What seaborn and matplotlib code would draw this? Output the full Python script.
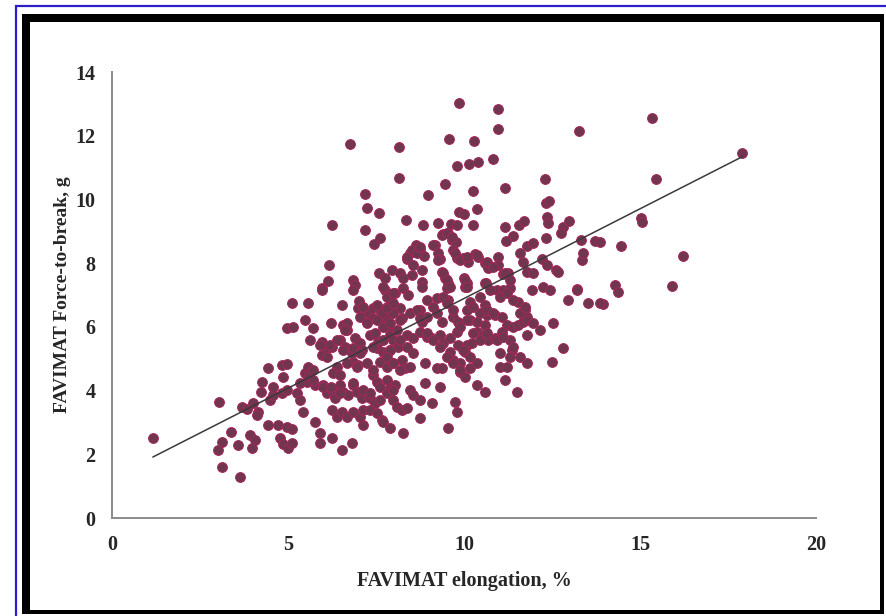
import numpy as np
import pandas as pd
import seaborn as sns
import matplotlib.pyplot as plt
from matplotlib.patches import Rectangle

#----------------------------- DATA -----------------------------#
# (elongation %, force-to-break g)
upper_pts = [(9.86, 13.02), (10.97, 12.84), (10.97, 12.21), (13.27, 12.15), (9.57, 11.90), (10.28, 11.83),
             (8.15, 11.65), (10.82, 11.27), (9.80, 11.05), (10.14, 11.10), (10.40, 11.17), (8.15, 10.67),
             (12.30, 10.64), (9.46, 10.48), (11.16, 10.36), (10.26, 10.26), (8.98, 10.14), (12.33, 9.89),
             (12.41, 9.95), (10.37, 9.70), (9.86, 9.60), (10.00, 9.54), (7.59, 9.57), (8.35, 9.35),
             (12.36, 9.45), (12.40, 9.26), (8.84, 9.20), (9.26, 9.26), (9.63, 9.23), (9.80, 9.20),
             (10.26, 9.20), (11.56, 9.20), (11.70, 9.32), (11.16, 9.13), (12.81, 9.13), (12.98, 9.32),
             (12.76, 8.95), (9.40, 8.91), (9.55, 8.95), (11.39, 8.85), (11.19, 8.70), (12.33, 8.79),
             (13.32, 8.73), (13.72, 8.70), (7.61, 8.79), (7.44, 8.60), (9.66, 8.73), (9.77, 8.66),
             (11.79, 8.54), (11.96, 8.63), (8.64, 8.57), (8.75, 8.41), (9.18, 8.57), (8.47, 8.32),
             (8.38, 8.13), (8.86, 8.22), (9.26, 8.32), (9.32, 8.13), (9.69, 8.41), (9.80, 8.16),
             (9.97, 8.16), (10.11, 8.04), (10.31, 8.29), (10.40, 8.19), (10.60, 8.00), (10.68, 7.85),
             (10.97, 8.19), (10.97, 7.94), (11.59, 8.32), (11.68, 8.04), (12.22, 8.13), (12.36, 7.94),
             (12.61, 7.78), (12.67, 7.72), (13.35, 8.10), (13.38, 8.32), (7.59, 7.69), (7.76, 7.53),
             (7.95, 7.78), (8.18, 7.69), (8.27, 7.53), (8.52, 7.63), (8.81, 7.41), (9.38, 7.72),
             (9.46, 7.53), (9.55, 7.38), (10.00, 7.53), (10.09, 7.38), (10.63, 7.38), (11.11, 7.66),
             (11.25, 7.69), (11.79, 7.72), (11.96, 7.69), (13.20, 7.19),
             (6.76, 11.74), (7.19, 10.17), (7.24, 9.73), (6.25, 9.20), (7.19, 9.04), (6.16, 7.94),
             (6.14, 7.44), (6.85, 7.47), (6.90, 7.31), (5.97, 7.22)]

right_pts = [(15.34, 12.56), (17.90, 11.46), (15.45, 10.64), (15.03, 9.42), (15.06, 9.29), (14.46, 8.54),
             (16.22, 8.22), (14.29, 7.31), (15.91, 7.28), (13.86, 8.66), (13.95, 6.72), (14.38, 7.09),
             (12.95, 6.84), (13.21, 7.16), (13.52, 6.75), (13.86, 6.75), (12.53, 6.12), (12.81, 5.34),
             (12.50, 4.90)]

low_pts = [(1.16, 2.51), (3.04, 3.64), (3.13, 1.60), (3.64, 1.29), (3.01, 2.13), (3.13, 2.39), (3.38, 2.70),
           (3.58, 2.29), (3.93, 2.60), (4.07, 2.45), (3.98, 2.20), (3.70, 3.48), (3.84, 3.42), (4.01, 3.61),
           (4.15, 3.33), (4.12, 3.23), (4.44, 2.92), (4.72, 2.92), (4.97, 2.86), (5.11, 2.79), (4.77, 2.51),
           (4.86, 2.32), (5.00, 2.20), (5.11, 2.35), (4.49, 3.70), (4.58, 3.86), (4.26, 4.27), (4.23, 3.95),
           (4.43, 4.70), (4.83, 4.80), (4.97, 4.83), (4.86, 4.43), (5.26, 3.92), (5.34, 3.70), (5.43, 3.33),
           (5.48, 4.55), (5.57, 4.43), (5.77, 4.17), (5.77, 3.01), (5.91, 2.67), (5.91, 2.35), (6.25, 2.51),
           (6.53, 2.13), (6.82, 2.35), (7.13, 2.92), (5.11, 6.75), (5.57, 6.75), (4.97, 5.96), (5.14, 6.00),
           (5.48, 6.21), (5.71, 5.96), (5.97, 7.16), (5.63, 5.59), (5.97, 5.52), (6.11, 5.34), (6.25, 5.37),
           (5.97, 5.12), (6.11, 5.05), (6.53, 6.69), (6.56, 6.06), (6.68, 5.90), (6.48, 5.59), (6.62, 5.37),
           (6.90, 5.65), (7.05, 5.49), (7.10, 5.27), (6.85, 4.90), (6.99, 4.80), (6.39, 4.74), (6.28, 4.55),
           (6.48, 4.49), (5.57, 4.74), (5.71, 4.65), (5.54, 4.27), (5.99, 4.17), (6.11, 3.92), (6.25, 4.02),
           (6.34, 3.77), (6.48, 4.17), (6.56, 3.95), (6.70, 3.86), (6.85, 4.17), (6.96, 3.95), (7.10, 3.77),
           (7.24, 3.86), (6.25, 3.39), (6.39, 3.17), (6.53, 3.33), (6.68, 3.17), (6.85, 3.33), (7.05, 3.17),
           (7.13, 3.39), (6.82, 5.18), (6.99, 6.59), (7.24, 6.47), (6.85, 7.16), (7.24, 6.15)]

core_pts = [(7.76, 7.16), (7.90, 6.90), (8.04, 7.06), (8.27, 7.22), (8.41, 7.00), (8.81, 7.25), (9.23, 6.90),
            (9.55, 6.84), (9.52, 7.22), (10.03, 7.25), (10.17, 6.78), (10.09, 6.53), (10.45, 6.94),
            (10.60, 6.69), (10.94, 7.16), (11.11, 7.16), (11.31, 7.22), (11.53, 6.78), (11.73, 6.53),
            (11.79, 6.31), (11.93, 7.16), (12.24, 7.25), (12.44, 7.16), (7.41, 6.59), (7.41, 6.28),
            (7.67, 6.21), (7.81, 6.31), (7.84, 5.96), (8.18, 6.59), (8.24, 6.28), (8.47, 6.43), (8.75, 6.53),
            (8.81, 6.15), (8.95, 6.31), (9.23, 6.43), (9.38, 6.15), (9.69, 6.31), (9.83, 6.15), (10.17, 6.21),
            (10.37, 6.15), (10.60, 6.06), (10.65, 6.37), (10.88, 6.37), (11.08, 6.31), (11.22, 6.06),
            (11.39, 5.99), (11.53, 6.06), (11.68, 6.15), (11.79, 5.74), (7.33, 5.74), (7.47, 5.81),
            (7.56, 5.52), (7.90, 5.74), (7.98, 5.59), (8.13, 5.37), (8.38, 5.74), (8.55, 5.65), (8.75, 5.84),
            (8.95, 5.68), (9.09, 5.65), (9.32, 5.74), (9.40, 5.49), (9.60, 5.65), (9.80, 5.84), (9.83, 5.43),
            (10.09, 5.43), (10.23, 5.49), (10.37, 5.84), (10.54, 5.74), (10.68, 5.59), (10.88, 5.65),
            (11.08, 5.84), (11.31, 5.59), (11.36, 5.27), (11.31, 5.05), (7.53, 5.34), (7.70, 5.21),
            (7.90, 5.27), (7.61, 4.90), (7.81, 4.74), (8.24, 4.96), (8.32, 4.71), (8.47, 4.74), (8.89, 4.87),
            (9.23, 4.71), (9.38, 4.71), (9.60, 5.21), (9.69, 4.96), (9.89, 4.87), (10.03, 5.21), (10.17, 5.05),
            (10.17, 4.71), (9.89, 4.58), (10.03, 4.43), (11.02, 4.74), (11.16, 4.33), (10.37, 4.17),
            (10.60, 3.95), (11.51, 3.95), (7.41, 4.49), (7.53, 4.27), (7.81, 4.33), (7.90, 4.08), (8.04, 4.17),
            (8.47, 4.02), (8.55, 3.86), (8.75, 3.70), (8.89, 4.24), (9.32, 4.11), (9.09, 3.61), (7.33, 3.77),
            (7.47, 3.61), (7.61, 3.70), (7.98, 3.70), (8.10, 3.48), (8.24, 3.39), (8.38, 3.45), (7.33, 3.39),
            (7.53, 3.30), (7.67, 3.08), (7.70, 3.01), (7.90, 2.82), (8.75, 3.14), (9.74, 3.64), (9.80, 3.33),
            (9.55, 2.82), (8.27, 2.67)]

extra_pts = [(7.70, 7.25), (7.81, 6.94), (7.98, 7.06), (9.40, 7.69), (9.52, 7.47), (9.60, 7.25), (10.03, 7.47),
             (10.09, 7.25), (10.60, 7.38), (10.74, 7.16), (7.61, 6.53), (7.81, 6.62), (7.98, 6.43),
             (8.18, 6.21), (8.66, 6.53), (8.75, 6.28), (9.89, 6.00), (10.09, 6.21), (11.59, 6.43),
             (11.73, 6.62), (11.79, 6.21), (11.96, 6.12), (12.16, 5.90), (10.26, 5.81), (10.45, 5.59),
             (10.65, 5.81), (10.94, 5.59), (11.11, 5.68), (9.97, 5.27), (10.37, 4.87), (11.02, 5.18),
             (11.22, 4.74), (8.95, 5.81), (9.12, 5.59), (9.32, 5.37), (9.52, 5.05), (9.69, 4.87), (9.89, 4.65),
             (8.18, 5.59), (8.38, 5.37), (8.55, 5.18), (7.81, 5.18), (7.98, 4.87), (8.18, 4.65),
             (8.38, 8.19), (8.52, 8.41), (8.66, 8.32), (8.75, 8.51), (8.55, 7.94), (8.81, 7.78), (9.12, 8.57),
             (9.26, 8.10), (9.38, 8.88), (9.52, 8.95), (9.66, 8.82), (9.74, 8.32), (9.89, 8.10), (10.09, 8.19),
             (10.37, 8.26), (10.65, 8.04), (10.82, 7.88), (11.16, 7.69), (11.31, 7.47), (8.95, 6.84),
             (9.12, 6.62), (9.40, 6.94), (9.52, 6.75), (9.69, 6.53), (10.26, 6.62), (10.45, 6.43),
             (10.65, 6.53), (10.82, 6.43), (11.02, 6.94), (11.22, 7.06), (11.39, 6.84), (11.39, 5.37),
             (11.59, 5.05), (11.79, 4.87), (7.02, 6.81), (7.13, 6.62), (7.53, 6.69), (7.67, 6.43),
             (7.81, 6.59), (7.98, 6.75), (6.22, 6.12), (6.68, 6.12), (6.62, 5.90), (7.05, 6.31), (7.24, 6.12),
             (7.53, 6.21), (7.70, 6.00), (7.90, 6.12), (8.10, 5.90), (5.91, 5.43), (6.19, 5.43), (6.39, 5.59),
             (6.56, 5.27), (6.85, 5.34), (7.05, 5.18), (7.41, 5.37), (7.70, 5.59), (7.90, 5.27), (6.68, 4.87),
             (6.96, 4.74), (7.24, 4.87), (7.41, 4.65), (7.81, 5.05), (7.98, 4.87), (4.58, 4.11), (4.83, 3.92),
             (4.97, 4.02), (5.34, 4.24), (5.71, 4.33), (5.99, 4.11), (6.22, 4.11), (6.48, 3.92), (6.85, 4.24),
             (7.13, 4.02), (7.33, 3.92), (7.61, 4.11), (7.81, 3.92), (7.98, 4.02)]

# linear trendline as drawn in the original (fitted on the full data set)
trend_slope = 0.563
trend_intercept = 1.26

xlabel = 'FAVIMAT elongation, %'
ylabel = 'FAVIMAT Force-to-break, g'

#----------------------------------- PLOT -----------------------------------#
df = pd.DataFrame(upper_pts + right_pts + low_pts + core_pts + extra_pts,
                  columns=['elong', 'force'])
trend = pd.DataFrame({'elong': [df['elong'].min(), df['elong'].max()]})
trend['force'] = trend_intercept + trend_slope * trend['elong']

sns.set_style('white')
plt.rcParams['font.family'] = ['Liberation Serif', 'DejaVu Serif']

fig = plt.figure(figsize=(8.86, 6.16), dpi=100)
ax = fig.add_axes([112/886, 98/616, 704/886, 446/616])

sns.scatterplot(data=df, x='elong', y='force', ax=ax, s=50,
                color='#71354f', edgecolor='#a3285a', linewidth=0.7, zorder=3)
sns.lineplot(data=trend, x='elong', y='force', ax=ax, color='#3a3a3a', lw=1.1, zorder=4)

ax.set_xlim(0, 20)
ax.set_ylim(0, 14)
ax.set_xticks([0, 5, 10, 15, 20])
ax.set_yticks(range(0, 15, 2))
ax.set_xlabel(xlabel, fontsize=14.5, fontweight='bold', labelpad=12)
ax.set_ylabel(ylabel, fontsize=14, fontweight='bold', labelpad=3)

for s in ['top', 'right']:
    ax.spines[s].set_visible(False)
for s in ['left', 'bottom']:
    ax.spines[s].set_color('#8a8a8a')
    ax.spines[s].set_linewidth(1.4)
ax.tick_params(axis='both', length=5, width=1.2, color='#8a8a8a',
               labelsize=14.5, pad=7, direction='out')
for lab in ax.get_xticklabels() + ax.get_yticklabels():
    lab.set_fontweight('bold')

# picture frame: thin blue outline, heavy black border (thicker on top/left)
fig.add_artist(Rectangle((16/886, -0.1), 2.0, 1.1 - 6/616, transform=fig.transFigure,
                         fill=False, edgecolor='#2a1fc8', lw=1.6, zorder=-3))
fig.add_artist(Rectangle((22/886, 2/616), 862/886, 600/616, transform=fig.transFigure,
                         facecolor='black', edgecolor='none', zorder=-2))
fig.add_artist(Rectangle((30/886, 6/616), 850/886, 588/616, transform=fig.transFigure,
                         facecolor='white', edgecolor='none', zorder=-1))

fig.savefig('out.png', dpi=100)
